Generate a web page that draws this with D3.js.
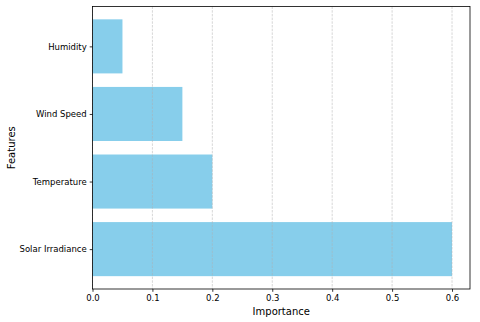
<!DOCTYPE html>
<html>
<head>
<meta charset="utf-8">
<script src="https://cdn.jsdelivr.net/npm/d3@7"></script>
<style>
  body { margin: 0; background: #fff; }
  svg { display: block; font-family: "DejaVu Sans", sans-serif; }
  .axis text { font-family: "DejaVu Sans", sans-serif; font-size: 8.5px; fill: #000; }
  .axis path, .axis line { stroke: #000; stroke-width: 0.8; }
  .grid line { stroke: #b0b0b0; stroke-dasharray: 2.5,1.2; stroke-width: 0.7; opacity: 0.7; }
  .axis-title { font-size: 10px; fill: #000; }
</style>
</head>
<body>
<svg id="chart"></svg>
<script>
// feature importances, bottom to top
const features = ['Solar Irradiance', 'Temperature', 'Wind Speed', 'Humidity'];
const importance = [0.6, 0.2, 0.15, 0.05];
const xTicks = [0, 0.1, 0.2, 0.3, 0.4, 0.5, 0.6];

const data = features.map((f, i) => ({ name: f, value: importance[i], idx: i }));

const width = 480, height = 322;
const margin = { top: 6.5, right: 10, bottom: 33, left: 92.5 };
const innerW = width - margin.left - margin.right;
const innerH = height - margin.top - margin.bottom;

const svg = d3.select('#chart').attr('width', width).attr('height', height);
const chart = svg.append('g').attr('transform', `translate(${margin.left},${margin.top})`);

// matplotlib-like limits: sticky 0, 5% padding on the top end
const xMax = d3.max(importance) * 1.05;
const xScale = d3.scaleLinear().domain([0, xMax]).range([0, innerW]);
const yPad = (features.length - 0.2) * 0.05;
const yScale = d3.scaleLinear().domain([-0.4 - yPad, features.length - 0.6 + yPad]).range([innerH, 0]);
const barH = yScale(0) - yScale(0.8);

chart.selectAll('.bar').data(data).join('rect')
  .attr('class', 'bar')
  .attr('x', xScale(0))
  .attr('y', d => yScale(d.idx + 0.4))
  .attr('width', d => xScale(d.value) - xScale(0))
  .attr('height', barH)
  .attr('fill', '#87ceeb');

// dashed grid on x, drawn over the bars
chart.append('g').attr('class', 'grid')
  .selectAll('line').data(xTicks).join('line')
  .attr('x1', d => xScale(d)).attr('x2', d => xScale(d))
  .attr('y1', 0).attr('y2', innerH);

// frame
chart.append('rect')
  .attr('width', innerW).attr('height', innerH)
  .attr('fill', 'none').attr('stroke', '#000').attr('stroke-width', 0.8);

const xAxis = d3.axisBottom(xScale).tickValues(xTicks).tickFormat(d3.format('.1f')).tickSize(2.8).tickPadding(3).tickSizeOuter(0);
chart.append('g').attr('class', 'axis')
  .attr('transform', `translate(0,${innerH})`)
  .call(xAxis)
  .call(g => g.select('.domain').remove());

const yAxis = d3.axisLeft(yScale).tickValues(data.map(d => d.idx)).tickFormat(i => features[i]).tickSize(2.8).tickPadding(3).tickSizeOuter(0);
chart.append('g').attr('class', 'axis')
  .call(yAxis)
  .call(g => g.select('.domain').remove());

svg.append('text').attr('class', 'axis-title')
  .attr('x', margin.left + innerW / 2).attr('y', height - 7)
  .attr('text-anchor', 'middle')
  .text('Importance');

svg.append('text').attr('class', 'axis-title')
  .attr('transform', `translate(15,${margin.top + innerH / 2}) rotate(-90)`)
  .attr('text-anchor', 'middle')
  .text('Features');
</script>
</body>
</html>
